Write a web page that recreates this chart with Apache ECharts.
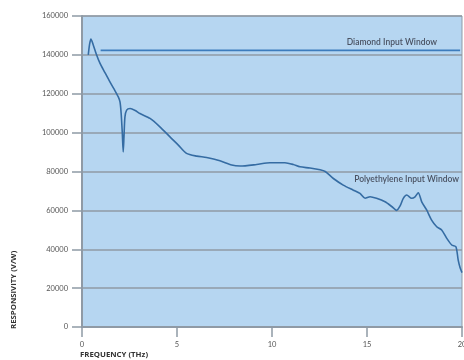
<!DOCTYPE html>
<html>
<head>
<meta charset="utf-8">
<style>html,body{margin:0;padding:0;background:#fff;}#c{width:464px;height:360px;}</style>
<script src="https://cdn.jsdelivr.net/npm/echarts@6/dist/echarts.min.js"></script>
</head>
<body>
<div id="c"></div>
<script>
const frequency = [0.33, 0.40, 0.47, 0.58, 0.75, 0.95, 1.2, 1.47, 1.7, 1.91, 2.0, 2.06, 2.12, 2.17, 2.21, 2.26, 2.35, 2.53, 2.8, 3.05, 3.58, 4.1, 4.63, 5.07, 5.5, 6.04, 6.56, 7.26, 7.88, 8.32, 9.19, 9.89, 10.68, 11.12, 11.47, 12.0, 12.53, 12.8, 13.23, 13.75, 14.28, 14.63, 14.9, 15.16, 15.5, 15.95, 16.3, 16.56, 16.75, 16.91, 17.09, 17.35, 17.53, 17.7, 17.88, 18.14, 18.4, 18.67, 18.93, 19.2, 19.46, 19.68, 19.8, 19.9, 20.0];
const responsivity = [140000, 145500, 148200, 145500, 140500, 135600, 131000, 126100, 122200, 118400, 115800, 110000, 100000, 90100, 98000, 108100, 111600, 112400, 111400, 109800, 107300, 103000, 97800, 93600, 89300, 87900, 87200, 85500, 83300, 82800, 83600, 84500, 84500, 83600, 82400, 81800, 80900, 80000, 76400, 73000, 70400, 68700, 66200, 67000, 66200, 64400, 62000, 60000, 62500, 66200, 67900, 66200, 67000, 69100, 64400, 60200, 55000, 51600, 49900, 45600, 42200, 41300, 34400, 30500, 28000];
const diamondFrequency = [0.98, 19.9];
const diamondResponsivity = [142300, 142300];
const yTicks = [0, 20000, 40000, 60000, 80000, 100000, 120000, 140000, 160000];
const xTicks = [0, 5, 10, 15, 20];

const poly = frequency.map((f, i) => [f, responsivity[i]]);
const diamond = diamondFrequency.map((f, i) => [f, diamondResponsivity[i]]);

const chart = echarts.init(document.getElementById('c'), null, {renderer: 'canvas'});
const gray = '#8f9aa5';
chart.setOption({
  animation: false,
  grid: {left: 82, right: 2, top: 16, bottom: 33, outerBoundsMode: 'none', containLabel: false, show: true, backgroundColor: '#b6d6f1', borderColor: gray, borderWidth: 1},
  xAxis: {
    type: 'value', min: 0, max: 20, interval: 5,
    axisLine: {show: true, lineStyle: {color: gray, width: 2}},
    axisTick: {show: true, length: 10, lineStyle: {color: gray, width: 1.5}},
    axisLabel: {color: '#555', fontSize: 7.5, fontFamily: 'Lato', margin: 14, showMaxLabel: true},
    splitLine: {show: false}
  },
  yAxis: {
    type: 'value', min: 0, max: 160000, interval: 20000,
    axisLine: {show: true, lineStyle: {color: gray, width: 2}},
    axisTick: {show: true, length: 10, lineStyle: {color: gray, width: 1.5}},
    axisLabel: {color: '#555', fontSize: 7.5, fontFamily: 'Lato', margin: 14, formatter: v => String(v)},
    splitLine: {show: true, lineStyle: {color: gray, width: 1.6}}
  },
  graphic: [
    {type: 'text', left: 80, top: 351, style: {text: 'FREQUENCY (THz)', font: 'bold 7.8px "Open Sans"', fill: '#333'}},
    {type: 'text', x: 10, y: 329, rotation: Math.PI / 2, style: {text: 'RESPONSIVITY (V/W)', font: 'bold 7.8px "Open Sans"', fill: '#333'}},
    {type: 'text', x: 437, y: 42, style: {text: 'Diamond Input Window', font: '600 8.5px Lato', fill: '#4a5262', align: 'right', verticalAlign: 'middle'}},
    {type: 'text', x: 459, y: 179, style: {text: 'Polyethylene Input Window', font: '600 8.5px Lato', fill: '#4a5262', align: 'right', verticalAlign: 'middle'}}
  ],
  series: [
    {type: 'line', data: poly, showSymbol: false, smooth: 0.25, lineStyle: {color: '#356ca3', width: 1.6}},
    {type: 'line', data: diamond, showSymbol: false, lineStyle: {color: '#3d7cbd', width: 1.6}}
  ]
});
</script>
</body>
</html>
